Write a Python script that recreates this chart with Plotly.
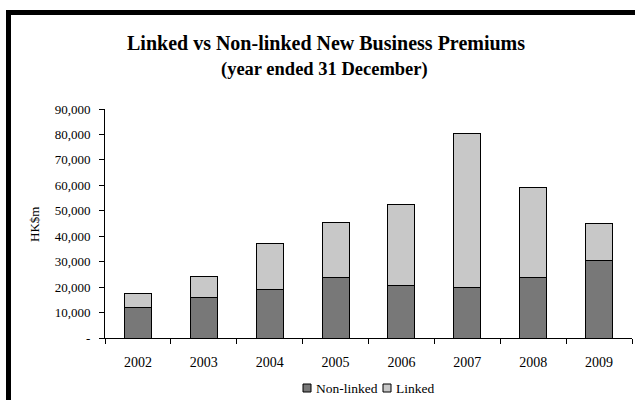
import plotly.graph_objects as go

# New business premiums by year, HK$ millions
years = ["2002", "2003", "2004", "2005", "2006", "2007", "2008", "2009"]
non_linked = [11900, 16100, 19000, 23900, 20600, 19900, 23700, 30400]
linked = [5700, 8100, 18200, 21300, 32000, 60300, 35600, 14700]

y_tick_values = [0, 10000, 20000, 30000, 40000, 50000, 60000, 70000, 80000, 90000]
y_tick_labels = ["-", "10,000", "20,000", "30,000", "40,000", "50,000",
                 "60,000", "70,000", "80,000", "90,000"]

series = [
    ("Non-linked", non_linked, "#787878"),
    ("Linked", linked, "#c8c8c8"),
]

FONT = "Liberation Serif, Times New Roman, serif"

fig = go.Figure()
for name, values, color in series:
    fig.add_trace(go.Bar(
        name=name, x=years, y=values,
        marker=dict(color=color, line=dict(color="#000000", width=1)),
        showlegend=False,
    ))

# plot area geometry in pixels (used for paper-coordinate placement)
L, R, T, B = 105, 3, 109, 62
W, H = 635, 400
pw, ph = W - L - R, H - T - B


def px_x(x):
    return (x - L) / pw


def px_y(y):
    return (H - B - y) / ph


# compact legend: small swatch followed directly by its label
legend_shapes = []
legend_notes = []
legend_y = 388
swatch_x = [303, 383]
for (name, _, color), sx in zip(series, swatch_x):
    legend_shapes.append(dict(
        type="rect", xref="paper", yref="paper",
        x0=px_x(sx), x1=px_x(sx + 8),
        y0=px_y(legend_y + 4), y1=px_y(legend_y - 4),
        fillcolor=color, line=dict(color="#000000", width=1),
    ))
    legend_notes.append(dict(
        text=name, xref="paper", yref="paper",
        x=px_x(sx + 11), y=px_y(legend_y),
        xanchor="left", yanchor="middle", showarrow=False,
        font=dict(family=FONT, size=13.5),
    ))

fig.update_layout(
    width=W, height=H,
    margin=dict(l=L, r=R, t=T, b=B),
    barmode="stack",
    bargap=0.59,
    paper_bgcolor="white",
    plot_bgcolor="white",
    font=dict(family=FONT, size=13, color="#000000"),
    showlegend=False,
    xaxis=dict(
        type="category",
        showline=True, linecolor="#000000", linewidth=1,
        ticks="outside", tickson="boundaries", ticklen=5,
        tickcolor="#000000", ticklabelstandoff=11,
        showgrid=False, zeroline=False,
        tickfont=dict(family=FONT, size=14),
    ),
    yaxis=dict(
        range=[0, 90000],
        tickvals=y_tick_values, ticktext=y_tick_labels,
        showline=True, linecolor="#000000", linewidth=1,
        ticks="outside", ticklen=5, tickcolor="#000000",
        ticklabelstandoff=6,
        showgrid=False, zeroline=False,
        tickfont=dict(family=FONT, size=13),
    ),
    shapes=[
        # chart frame: thick black border
        dict(type="rect", xref="paper", yref="paper",
             x0=px_x(8.5), x1=px_x(700), y0=px_y(460), y1=px_y(12.5),
             line=dict(color="#000000", width=5), fillcolor="rgba(0,0,0,0)",
             layer="above"),
    ] + legend_shapes,
    annotations=[
        dict(text="<b>Linked vs Non-linked New Business Premiums</b>",
             xref="paper", yref="paper", x=px_x(326), y=px_y(43),
             xanchor="center", yanchor="middle", showarrow=False,
             font=dict(family=FONT, size=20)),
        dict(text="<b>(year ended 31 December)</b>",
             xref="paper", yref="paper", x=px_x(324), y=px_y(70),
             xanchor="center", yanchor="middle", showarrow=False,
             font=dict(family=FONT, size=18.5)),
        dict(text="HK$m", textangle=-90,
             xref="paper", yref="paper", x=px_x(34), y=px_y(225),
             xanchor="center", yanchor="middle", showarrow=False,
             font=dict(family=FONT, size=13)),
    ] + legend_notes,
)

fig.write_html("out.html")
